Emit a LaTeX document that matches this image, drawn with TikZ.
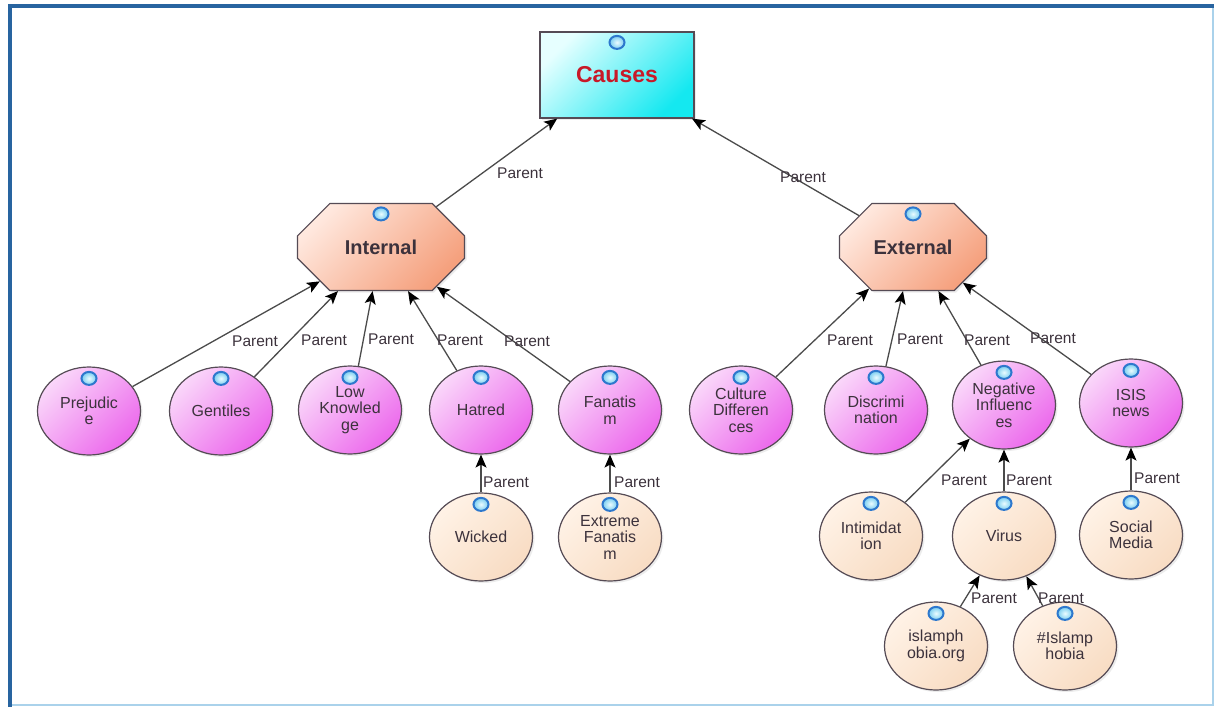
\documentclass[tikz,border=0pt]{standalone}
\usepackage{fontspec}
\setmainfont{Liberation Sans}
\usetikzlibrary{shapes.misc,shapes.geometric,arrows.meta,shadows}
\definecolor{frameblue}{RGB}{40,100,160}
\definecolor{framelight}{RGB}{170,210,235}
\definecolor{pkL}{RGB}{250,215,250}
\definecolor{pkD}{RGB}{236,105,236}
\definecolor{peL}{RGB}{255,242,230}
\definecolor{peD}{RGB}{248,220,195}
\definecolor{ocL}{RGB}{255,232,222}
\definecolor{ocD}{RGB}{245,160,125}
\definecolor{cyL}{RGB}{230,255,255}
\definecolor{cyD}{RGB}{20,232,240}
\definecolor{bordgray}{RGB}{85,75,85}
\definecolor{linegray}{RGB}{75,75,75}
\definecolor{txtgray}{RGB}{60,50,60}
\definecolor{causered}{RGB}{200,25,40}
\definecolor{iconblue}{RGB}{45,120,205}
\definecolor{iconL}{RGB}{235,252,255}
\definecolor{iconM}{RGB}{120,205,240}
\begin{document}
\begin{tikzpicture}[x=1pt,y=-1pt,
  shad/.style={drop shadow={opacity=0.15,shadow xshift=2pt,shadow yshift=-2pt}},
  lev1/.style={ellipse, draw=bordgray, line width=1.2pt, minimum width=103pt,
    minimum height=88pt, inner sep=0pt, align=center, text=txtgray,
    font=\fontsize{16}{16.5}\selectfont, top color=pkL, bottom color=pkD,
    shading angle=45, shad},
  lev2/.style={lev1, top color=peL, bottom color=peD, shading angle=45},
  octa/.style={chamfered rectangle, chamfered rectangle xsep=50pt,
    chamfered rectangle ysep=25pt, draw=bordgray, line width=1.2pt,
    minimum height=87pt, inner sep=0pt, text=txtgray,
    font=\fontsize{20}{22}\selectfont\bfseries, top color=ocL, bottom color=ocD,
    shading angle=45, shad},
  causebox/.style={rectangle, draw=bordgray, line width=1.2pt, minimum width=154pt,
    minimum height=86pt, inner sep=0pt, text=causered,
    font=\fontsize{23}{25}\selectfont\bfseries, top color=cyL, bottom color=cyD,
    shading angle=45, shad},
  lbl/.style={inner sep=0pt, text=txtgray, font=\fontsize{15.5}{16}\selectfont},
  conn/.style={draw=linegray, line width=1.3pt,
    -{Stealth[length=13pt,width=11pt,inset=3pt,color=black]}},
  icon/.style={draw=iconblue, line width=2pt, inner color=iconL, outer color=iconM}
]
\useasboundingbox (0,0) rectangle (1216,707);
\fill[white] (0,0) rectangle (1216,707);
% frame
\draw[framelight, line width=1.5pt] (1213,6) -- (1213,705) -- (10,705);
\draw[frameblue, line width=3.5pt] (10,707) -- (10,6) -- (1214,6);

% nodes
\node[causebox] (cau) at (617,75) {Causes};
\node[octa, minimum width=167pt] (int) at (381,247) {Internal};
\node[octa, minimum width=147pt, chamfered rectangle xsep=43pt] (ext) at (913,247) {External};

\node[lev1] (pre) at (89,411) {Prejudic\\e};
\node[lev1] (gen) at (221,411) {Gentiles};
\node[lev1] (low) at (350,410) {Low\\Knowled\\ge};
\node[lev1] (hat) at (481,410) {Hatred};
\node[lev1] (fan) at (610,410) {Fanatis\\m};
\node[lev1] (cul) at (741,410) {Culture\\Differen\\ces};
\node[lev1] (dis) at (876,410) {Discrimi\\nation};
\node[lev1] (neg) at (1004,405) {Negative\\Influenc\\es};
\node[lev1] (isi) at (1131,403) {ISIS\\news};

\node[lev2] (wic) at (481,537) {Wicked};
\node[lev2] (efa) at (610,537) {Extreme\\Fanatis\\m};
\node[lev2] (inti) at (871,536) {Intimidat\\ion};
\node[lev2] (vir) at (1004,536) {Virus};
\node[lev2] (soc) at (1131,535) {Social\\Media};
\node[lev2] (isl) at (936,646) {islamph\\obia.org};
\node[lev2] (his) at (1065,646) {\#Islamp\\hobia};

% icons
\foreach \n in {pre,gen,low,hat,fan,cul,dis,neg,isi,wic,efa,inti,vir,soc,isl,his}
  \draw[icon] ([yshift=-12pt]\n.north) ellipse (7.5 and 6.5);
\foreach \n in {cau,int,ext}
  \draw[icon] ([yshift=-11pt]\n.north) ellipse (7.5 and 6.5);

% connectors
\draw[conn] (int) -- (cau);
\draw[conn] (ext) -- (cau);
\foreach \c in {pre,gen,low,hat,fan} \draw[conn] (\c) -- (int);
\foreach \c in {cul,dis,neg,isi} \draw[conn] (\c) -- (ext);
\draw[conn] (wic) -- (hat);
\draw[conn] (efa) -- (fan);
\draw[conn] (inti) -- (neg);
\draw[conn] (vir) -- (neg);
\draw[conn] (soc) -- (isi);
\draw[conn] (isl) -- (vir);
\draw[conn] (his) -- (vir);

% labels
\node[lbl] (l1) at (520,173) {Parent};
\node[lbl] (l2) at (803,177) {Parent};
\node[lbl] (l3) at (255,341) {Parent};
\node[lbl] (l4) at (324,340) {Parent};
\node[lbl] (l5) at (391,339) {Parent};
\node[lbl] (l6) at (460,340) {Parent};
\node[lbl] (l7) at (527,341) {Parent};
\node[lbl] (l8) at (850,340) {Parent};
\node[lbl] (l9) at (920,339) {Parent};
\node[lbl] (l10) at (987,340) {Parent};
\node[lbl] (l11) at (1053,338) {Parent};
\node[lbl] (l12) at (506,482) {Parent};
\node[lbl] (l13) at (637,482) {Parent};
\node[lbl] (l14) at (964,480) {Parent};
\node[lbl] (l15) at (1029,480) {Parent};
\node[lbl] (l16) at (1157,478) {Parent};
\node[lbl] (l17) at (994,598) {Parent};
\node[lbl] (l18) at (1061,598) {Parent};
\end{tikzpicture}
\end{document}
